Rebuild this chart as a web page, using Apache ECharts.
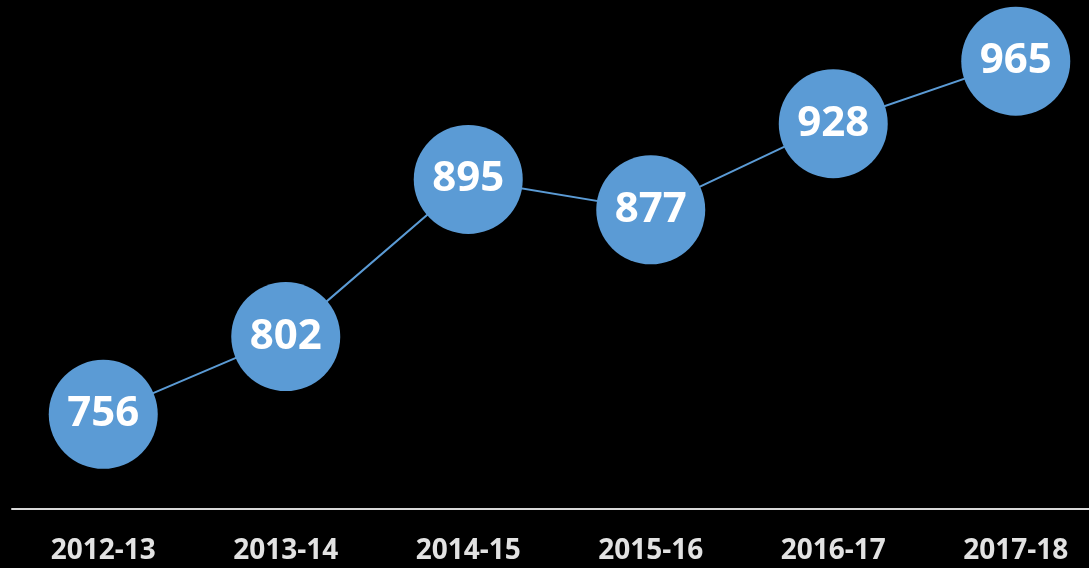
<!DOCTYPE html>
<html lang="en" style="height: 100%">
<head>
    <meta charset="utf-8">
    <title>Line chart</title>
    <script src="https://cdn.jsdelivr.net/npm/echarts@6/dist/echarts.min.js"></script>
</head>
<body style="height: 100%; margin: 0; background: #000; overflow: hidden;">
<!-- chart is a bit wider than the window so the last point sits near the edge -->
<div id="container" style="width: 1107px; height: 568px;"></div>
<script type="text/javascript">
    var years = ['2012-13', '2013-14', '2014-15', '2015-16', '2016-17', '2017-18'];
    var values = [756, 802, 895, 877, 928, 965];

    var myChart = echarts.init(document.getElementById('container'), null, {renderer: 'canvas'});

    var option = {
        backgroundColor: '#000',
        animation: false,
        grid: {left: 12, right: 0, top: 2, bottom: 59},
        xAxis: {
            type: 'category',
            data: years,
            boundaryGap: true,
            axisLine: {lineStyle: {color: '#d9d9d9', width: 2}},
            axisTick: {show: false},
            axisLabel: {
                color: '#e2e2e2',
                fontFamily: 'Open Sans',
                fontWeight: 'bold',
                fontSize: 28,
                margin: 28
            }
        },
        yAxis: {
            type: 'value',
            min: 700,
            max: 1000,
            show: false,
            splitLine: {show: false}
        },
        series: [{
            type: 'line',
            data: values,
            symbol: 'circle',
            symbolSize: 109,
            itemStyle: {color: '#5b9bd5'},
            lineStyle: {color: '#5b9bd5', width: 2},
            label: {
                show: true,
                position: 'inside',
                color: '#fff',
                fontFamily: 'Open Sans',
                fontWeight: 'bold',
                fontSize: 42
            }
        }]
    };
    myChart.setOption(option);
</script>
</body>
</html>
